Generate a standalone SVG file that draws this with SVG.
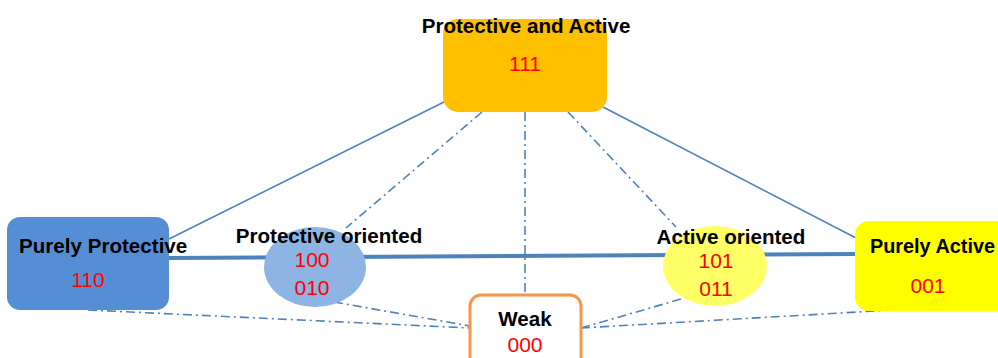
<svg xmlns="http://www.w3.org/2000/svg" width="998" height="358" viewBox="0 0 998 358">
<style>
.lbl{font-family:"Liberation Sans",Arial,sans-serif;font-weight:bold;font-size:20.6px;fill:#000}
.num{font-family:"Liberation Sans",Arial,sans-serif;font-size:21px;fill:#FF0000;text-anchor:middle}
.solid{stroke:#4F81BD;stroke-width:1.6;fill:none}
.thick{stroke:#4F81BD;stroke-width:4;fill:none}
.dd{stroke:#4F81BD;stroke-width:1.6;fill:none;stroke-dasharray:9 4 2 4}
</style>
<rect width="998" height="358" fill="#fff"/>
<g id="connectors">
<line class="solid" x1="446" y1="101" x2="169" y2="239"/>
<line class="solid" x1="603" y1="107" x2="856" y2="238"/>
<line class="thick" x1="169" y1="258" x2="856" y2="254"/>
<line class="dd" x1="482" y1="112" x2="346" y2="228"/>
<line class="dd" x1="525" y1="112" x2="525" y2="296"/>
<line class="dd" x1="568" y1="112" x2="676" y2="227"/>
<line class="dd" x1="88" y1="310" x2="470" y2="328"/>
<line class="dd" x1="334" y1="302" x2="470" y2="326"/>
<line class="dd" x1="581" y1="328" x2="702" y2="293"/>
<line class="dd" x1="581" y1="328" x2="910" y2="309"/>
</g>
<g id="node-pa">
<rect x="443" y="19" width="164" height="93" rx="15" fill="#FFC000"/>
<text class="lbl" x="526" y="33" text-anchor="middle">Protective and Active</text>
<text class="num" x="525" y="71">111</text>
</g>
<g id="node-pp">
<rect x="7" y="217" width="162" height="93" rx="13" fill="#558ED5"/>
<text class="lbl" x="19" y="253">Purely Protective</text>
<text class="num" x="88" y="287">110</text>
</g>
<g id="node-po">
<ellipse cx="315" cy="267" rx="51" ry="40" fill="#8EB4E3"/>
<text class="lbl" x="329" y="243" text-anchor="middle">Protective oriented</text>
<text class="num" x="312" y="267">100</text>
<text class="num" x="312" y="295">010</text>
</g>
<g id="node-ao">
<ellipse cx="715" cy="266" rx="52" ry="40" fill="#FFFF66"/>
<text class="lbl" x="731" y="244" text-anchor="middle">Active oriented</text>
<text class="num" x="716" y="268">101</text>
<text class="num" x="716" y="296">011</text>
</g>
<g id="node-pac">
<rect x="855" y="221" width="160" height="90" rx="14" fill="#FFFF00"/>
<text class="lbl" x="870" y="253" textLength="125" lengthAdjust="spacingAndGlyphs">Purely Active</text>
<text class="num" x="928" y="293">001</text>
</g>
<g id="node-weak">
<rect x="470" y="295" width="111" height="75" rx="11" fill="#fff" stroke="#F79646" stroke-width="3"/>
<text class="lbl" x="525" y="326" text-anchor="middle">Weak</text>
<text class="num" x="525" y="352">000</text>
</g>
</svg>
